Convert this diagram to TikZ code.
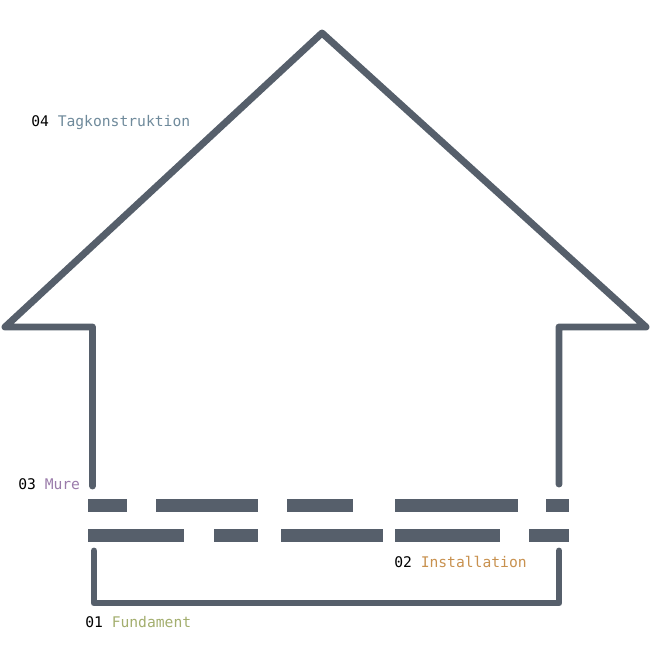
\documentclass[tikz,border=0pt]{standalone}
\usepackage{fontspec}
\newfontfamily\labelfont{DejaVu Sans Mono}
\usetikzlibrary{positioning}
\definecolor{wallgray}{HTML}{565F6B}
\definecolor{roofblue}{HTML}{6F8A9B}
\definecolor{murepurple}{HTML}{9A7BAA}
\definecolor{instorange}{HTML}{C8914F}
\definecolor{fundgreen}{HTML}{A3AE6E}

\begin{document}
\begin{tikzpicture}[
    x=0.75pt, y=-0.75pt,
    outline/.style={draw=wallgray, line width=5.2pt, line join=round, line cap=round},
    pipe/.style={fill=wallgray, draw=none},
    label/.style={anchor=west, inner sep=0pt, font=\labelfont\fontsize{11}{13}\selectfont, text=black}
]
    \useasboundingbox (0,0) rectangle (650,650);

    % Roof and walls
    \draw[outline] (92.5,486) -- (92.5,327) -- (5,327) -- (322,33) -- (646,327) -- (559,327) -- (559,484);

    % Foundation
    \draw[outline] (94,551) -- (94,603) -- (559,603) -- (559,551);

    % Installation lines - upper row
    \foreach \a/\b in {88/127, 156/258, 287/353, 395/518, 546/569} {
      \fill[pipe] (\a,499) rectangle (\b,512);
    }

    % Installation lines - lower row
    \foreach \a/\b in {88/184, 214/258, 281/383, 395/500, 529/569} {
      \fill[pipe] (\a,529) rectangle (\b,542);
    }

    % Labels
    \node[label] (roof) at (31,123) {04 \textcolor{roofblue}{Tagkonstruktion}};
    \node[label] (mure) at (18,484) {03 \textcolor{murepurple}{Mure}};
    \node[label] (install) at (394,562) {02 \textcolor{instorange}{Installation}};
    \node[label] (fundament) at (85,622) {01 \textcolor{fundgreen}{Fundament}};

\end{tikzpicture}
\end{document}
